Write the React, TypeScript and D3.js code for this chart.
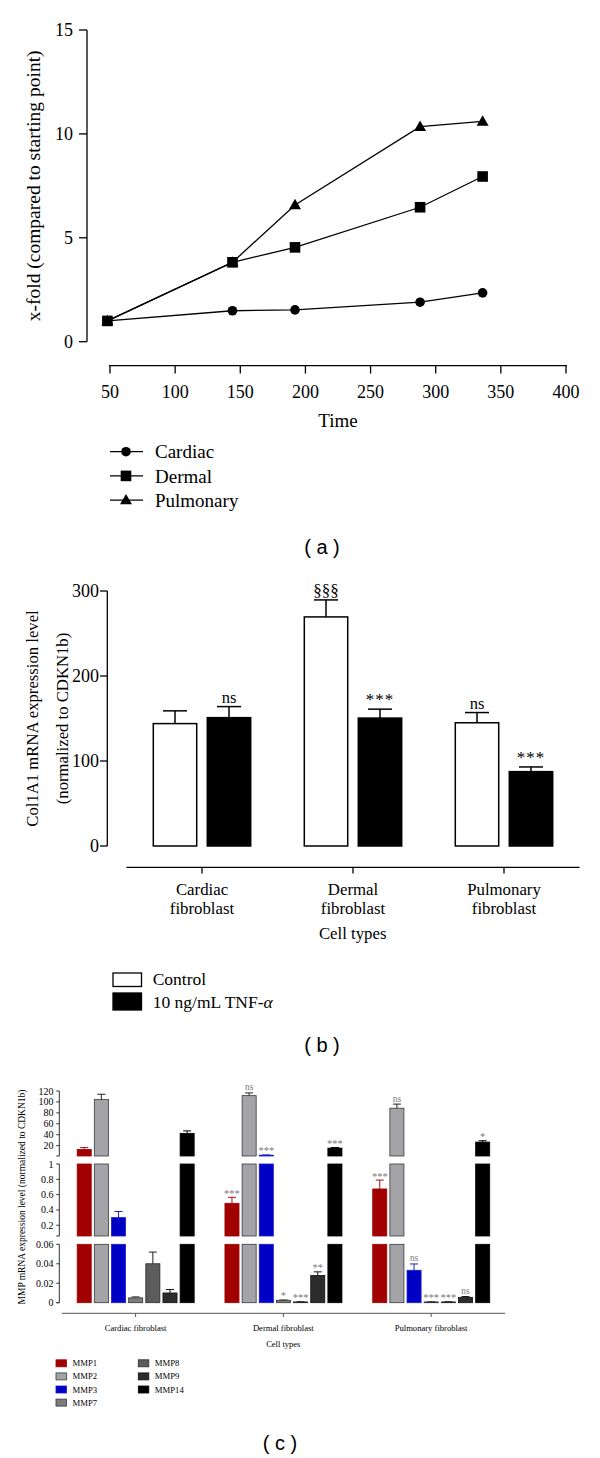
import React from "react";
import * as d3 from "d3";

const SERIF = "'Liberation Serif', 'Times New Roman', serif";
const SANS = "'Liberation Sans', Arial, sans-serif";

// ---------- Panel (a) ----------
const timeHours = [48, 144, 192, 288, 336];
const cardiacFold = [1.0, 1.49, 1.53, 1.9, 2.35];
const dermalFold = [1.0, 3.82, 4.54, 6.47, 7.95];
const pulmonaryFold = [1.0, 3.82, 6.58, 10.35, 10.6];
const seriesNamesA = ["Cardiac", "Dermal", "Pulmonary"];
const xTicksA = [50, 100, 150, 200, 250, 300, 350, 400];
const yTicksA = [0, 5, 10, 15];

// ---------- Panel (b) ----------
const cellTypesB = [
  ["Cardiac", "fibroblast"],
  ["Dermal", "fibroblast"],
  ["Pulmonary", "fibroblast"],
];
const controlMean = [144, 269.5, 145];
const controlErr = [15, 20, 12];
const tnfMean = [151, 150.5, 87.5];
const tnfErr = [13, 10.5, 5.5];
const controlSig = ["", "§§§", "ns"];
const tnfSig = ["ns", "***", "***"];
const yTicksB = [0, 100, 200, 300];
const legendB = ["Control", "10 ng/mL TNF-"];

// ---------- Panel (c) ----------
const cellTypesC = ["Cardiac fibroblast", "Dermal fibroblast", "Pulmonary fibroblast"];
const mmpNames = ["MMP1", "MMP2", "MMP3", "MMP7", "MMP8", "MMP9", "MMP14"];
const mmpFill = ["#a00000", "#a3a3a8", "#0000c4", "#7d7d7d", "#5c5c5c", "#2c2c2c", "#000000"];
const mmpStroke = ["#a00000", "#3a3a3a", "#1a1ad0", "#333333", "#2a2a2a", "#111111", "#000000"];
const mmpErrColor = ["#b01010", "#222222", "#2020c0", "#333333", "#222222", "#111111", "#000000"];
const cardiacMMP = [13, 104.5, 0.3, 0.005, 0.04, 0.01, 42.5];
const cardiacMMPErr = [3.5, 9.5, 0.08, 0.001, 0.012, 0.0035, 4.5];
const dermalMMP = [0.487, 111.5, 2.5, 0.0025, 0.0008, 0.028, 15.5];
const dermalMMPErr = [0.078, 5, 0.5, 0.0003, 0.0002, 0.0037, 1];
const pulmonaryMMP = [0.674, 88.5, 0.0333, 0.0008, 0.0008, 0.0055, 26.5];
const pulmonaryMMPErr = [0.116, 7.5, 0.0065, 0.0002, 0.0002, 0.0008, 2.5];
const cardiacSig = ["", "", "", "", "", "", ""];
const dermalSig = ["***", "ns", "***", "*", "***", "**", "***"];
const pulmonarySig = ["***", "ns", "ns", "***", "***", "ns", "*"];
const yTicksTop = [20, 40, 60, 80, 100, 120];
const yTicksMid = [0.2, 0.4, 0.6, 0.8, 1];
const yTicksBot = [0, 0.02, 0.04, 0.06];

function PanelA() {
  const x = d3.scaleLinear().domain([50, 400]).range([110, 566]);
  const y = d3.scaleLinear().domain([0, 15]).range([341.7, 30]);
  const series = [cardiacFold, dermalFold, pulmonaryFold];
  const line = (vals: number[]) =>
    d3.line<number>().x((_, i) => x(timeHours[i])).y((d) => y(d))(vals) || "";
  const tri = d3.symbol().type(d3.symbolTriangle).size(62)() || "";
  const marker = (k: number, cx: number, cy: number, key: string) => {
    if (k === 0) return <circle key={key} cx={cx} cy={cy} r={4.8} fill="#000" />;
    if (k === 1) return <rect key={key} x={cx - 5.3} y={cy - 5.3} width={10.6} height={10.6} fill="#000" />;
    return <path key={key} d={tri} transform={`translate(${cx},${cy + 0.8})`} fill="#000" />;
  };
  return (
    <g fontFamily={SERIF}>
      <line x1={87} x2={87} y1={y(15)} y2={y(0)} stroke="#000" strokeWidth={1.3} />
      {yTicksA.map((t) => (
        <g key={t}>
          <line x1={79} x2={87} y1={y(t)} y2={y(t)} stroke="#000" strokeWidth={1.3} />
          <text x={73} y={y(t)} dy="0.35em" textAnchor="end" fontSize={18}>{t}</text>
        </g>
      ))}
      <text transform={`translate(33,${(y(0) + y(15)) / 2}) rotate(-90)`} dy="0.35em" textAnchor="middle" fontSize={19.5}>
        x-fold (compared to starting point)
      </text>
      <line x1={x(50) - 1} x2={x(400) + 1} y1={365.7} y2={365.7} stroke="#000" strokeWidth={1.3} />
      {xTicksA.map((t) => (
        <g key={t}>
          <line x1={x(t)} x2={x(t)} y1={365.7} y2={373.5} stroke="#000" strokeWidth={1.3} />
          <text x={x(t)} y={391.7} dy="0.35em" textAnchor="middle" fontSize={18}>{t}</text>
        </g>
      ))}
      <text x={(x(50) + x(400)) / 2} y={420} dy="0.35em" textAnchor="middle" fontSize={19}>Time</text>
      {series.map((s, k) => (
        <path key={k} d={line(s)} fill="none" stroke="#000" strokeWidth={1.3} />
      ))}
      {series.map((s, k) => s.map((v, i) => marker(k, x(timeHours[i]), y(v), `${k}-${i}`)))}
      {seriesNamesA.map((n, k) => {
        const cy = 451.7 + k * 24.2;
        return (
          <g key={n}>
            <line x1={110} x2={143} y1={cy} y2={cy} stroke="#000" strokeWidth={1.3} />
            {marker(k, 126, cy, "lg" + k)}
            <text x={155} y={cy} dy="0.35em" fontSize={19}>{n}</text>
          </g>
        );
      })}
      <text x={322} y={547} dy="0.35em" textAnchor="middle" fontFamily={SANS} fontSize={20}>( a )</text>
    </g>
  );
}

function PanelB() {
  const x = d3.scaleBand<number>().domain([0, 1, 2]).range([126.5, 579.5]).padding(0);
  const inner = d3.scaleBand<string>().domain(["c", "t"]).range([-48.7, 48.7]).paddingInner(0.196).paddingOuter(0);
  const y = d3.scaleLinear().domain([0, 300]).range([846, 591]);
  const bw = inner.bandwidth();
  const cap = 12;
  const bars: { g: number; k: string; v: number; e: number; sig: string }[] = [];
  cellTypesB.forEach((_, i) => {
    bars.push({ g: i, k: "c", v: controlMean[i], e: controlErr[i], sig: controlSig[i] });
    bars.push({ g: i, k: "t", v: tnfMean[i], e: tnfErr[i], sig: tnfSig[i] });
  });
  return (
    <g fontFamily={SERIF}>
      <line x1={107.3} x2={107.3} y1={y(300)} y2={y(0)} stroke="#000" strokeWidth={1.3} />
      {yTicksB.map((t) => (
        <g key={t}>
          <line x1={100} x2={107.3} y1={y(t)} y2={y(t)} stroke="#000" strokeWidth={1.3} />
          <text x={99} y={y(t)} dy="0.35em" textAnchor="end" fontSize={18}>{t}</text>
        </g>
      ))}
      <g transform={`translate(0,${(y(0) + y(300)) / 2})`}>
        <text transform="translate(31.7,0) rotate(-90)" dy="0.35em" textAnchor="middle" fontSize={16.7}>
          Col1A1 mRNA expression level
        </text>
        <text transform="translate(61.7,0) rotate(-90)" dy="0.35em" textAnchor="middle" fontSize={16.7}>
          (normalized to CDKN1b)
        </text>
      </g>
      {bars.map((b, i) => {
        const cx = (x(b.g) as number) + x.bandwidth() / 2;
        const bx = cx + (inner(b.k) as number);
        const mid = bx + bw / 2;
        return (
          <g key={i}>
            <line x1={mid} x2={mid} y1={y(b.v)} y2={y(b.v + b.e)} stroke="#000" strokeWidth={1.5} />
            <line x1={mid - cap} x2={mid + cap} y1={y(b.v + b.e)} y2={y(b.v + b.e)} stroke="#000" strokeWidth={1.5} />
            <rect x={bx} y={y(b.v)} width={bw} height={y(0) - y(b.v)} fill={b.k === "c" ? "#fff" : "#000"} stroke="#000" strokeWidth={1.5} />
            {b.sig && (
              <text x={mid} y={y(b.v + b.e) - 4} textAnchor="middle" fontSize={b.sig === "ns" ? 16.5 : 17} letterSpacing={b.sig === "***" ? 1 : 0}>
                {b.sig}
              </text>
            )}
          </g>
        );
      })}
      <line x1={126.5} x2={579.5} y1={867.3} y2={867.3} stroke="#000" strokeWidth={1.3} />
      {cellTypesB.map((c, i) => {
        const cx = (x(i) as number) + x.bandwidth() / 2;
        return (
          <g key={i}>
            <line x1={cx} x2={cx} y1={867.3} y2={873.5} stroke="#000" strokeWidth={1.3} />
            <text x={cx} y={889} dy="0.35em" textAnchor="middle" fontSize={16.8}>{c[0]}</text>
            <text x={cx} y={908} dy="0.35em" textAnchor="middle" fontSize={16.8}>{c[1]}</text>
          </g>
        );
      })}
      <text x={352.7} y={933.3} dy="0.35em" textAnchor="middle" fontSize={16.8}>Cell types</text>
      <rect x={113} y={973} width={28.5} height={13.5} fill="#fff" stroke="#000" strokeWidth={1.3} />
      <rect x={113} y={993} width={28.5} height={17} fill="#000" stroke="#000" strokeWidth={1.3} />
      <text x={152.7} y={979} dy="0.35em" fontSize={17.5}>{legendB[0]}</text>
      <text x={152.7} y={1001.7} dy="0.35em" fontSize={17.5}>
        {legendB[1]}<tspan fontStyle="italic">α</tspan>
      </text>
      <text x={322} y={1045} dy="0.35em" textAnchor="middle" fontFamily={SANS} fontSize={20}>( b )</text>
    </g>
  );
}

function PanelC() {
  const x = d3.scaleBand<number>().domain([0, 1, 2]).range([61.7, 505]).padding(0);
  const inner = d3.scaleBand<string>().domain(mmpNames).range([-58.4, 58.6]).paddingInner(0.18).paddingOuter(0);
  const segs = [
    { s: d3.scaleLinear().domain([0, 0.06]).range([1302.7, 1244.3]), lo: 0, hi: 0.06, ticks: yTicksBot },
    { s: d3.scaleLinear().domain([0.06, 1]).range([1236, 1164]), lo: 0.06, hi: 1, ticks: yTicksMid },
    { s: d3.scaleLinear().domain([1, 120]).range([1156, 1091]), lo: 1, hi: 120, ticks: yTicksTop },
  ];
  const groups = [
    { v: cardiacMMP, e: cardiacMMPErr, sig: cardiacSig },
    { v: dermalMMP, e: dermalMMPErr, sig: dermalSig },
    { v: pulmonaryMMP, e: pulmonaryMMPErr, sig: pulmonarySig },
  ];
  const bw = inner.bandwidth();
  const axX = 59.3;
  return (
    <g fontFamily={SERIF}>
      {segs.map((sg, si) => (
        <g key={si}>
          <line x1={axX} x2={axX} y1={sg.s.range()[0]} y2={sg.s.range()[1]} stroke="#333" strokeWidth={1} />
          <line x1={axX - 3} x2={axX} y1={sg.s.range()[0]} y2={sg.s.range()[0]} stroke="#333" strokeWidth={1} />
          {sg.ticks.map((t) => (
            <g key={t}>
              <line x1={axX - 3} x2={axX} y1={sg.s(t)} y2={sg.s(t)} stroke="#333" strokeWidth={1} />
              <text x={53.5} y={sg.s(t)} dy="0.35em" textAnchor="end" fontSize={10}>{t}</text>
            </g>
          ))}
        </g>
      ))}
      <text transform="translate(22,1197) rotate(-90)" dy="0.35em" textAnchor="middle" fontSize={9.5}>
        MMP mRNA expression level (normalized to CDKN1b)
      </text>
      {groups.map((g, gi) => {
        const cx = (x(gi) as number) + x.bandwidth() / 2;
        return (
          <g key={gi}>
            {mmpNames.map((m, mi) => {
              const bx = cx + (inner(m) as number);
              const mid = bx + bw / 2;
              const v = g.v[mi];
              const e = g.e[mi];
              const seg = segs.find((sg) => v <= sg.hi) || segs[2];
              const yTop = seg.s(v);
              const yErr = seg.s(Math.min(v + e, seg.hi));
              const sig = g.sig[mi];
              return (
                <g key={m}>
                  {segs.map((sg, si) =>
                    v > sg.lo ? (
                      <rect
                        key={si}
                        x={bx}
                        y={sg.s(Math.min(v, sg.hi))}
                        width={bw}
                        height={Math.max(sg.s.range()[0] - sg.s(Math.min(v, sg.hi)), 0.6)}
                        fill={mmpFill[mi]}
                        stroke={mmpStroke[mi]}
                        strokeWidth={0.8}
                      />
                    ) : null
                  )}
                  <line x1={mid} x2={mid} y1={yTop} y2={yErr} stroke={mmpErrColor[mi]} strokeWidth={1} />
                  <line x1={mid - 4} x2={mid + 4} y1={yErr} y2={yErr} stroke={mmpErrColor[mi]} strokeWidth={1} />
                  {sig && (
                    <text
                      x={mid}
                      y={yErr - (sig === "ns" ? 2.5 : 0.5)}
                      textAnchor="middle"
                      fontSize={sig === "ns" ? 9.4 : 10.5}
                      fill="#7a7a7a"
                    >
                      {sig}
                    </text>
                  )}
                </g>
              );
            })}
          </g>
        );
      })}
      <line x1={61.7} x2={505} y1={1313.3} y2={1313.3} stroke="#555" strokeWidth={1} />
      {cellTypesC.map((c, i) => {
        const cx = (x(i) as number) + x.bandwidth() / 2;
        return (
          <g key={i}>
            <line x1={cx} x2={cx} y1={1313.3} y2={1317} stroke="#555" strokeWidth={1} />
            <text x={cx} y={1328.3} dy="0.35em" textAnchor="middle" fontSize={8.6}>{c}</text>
          </g>
        );
      })}
      <text x={283.3} y={1344} dy="0.35em" textAnchor="middle" fontSize={8.5}>Cell types</text>
      {mmpNames.map((m, mi) => {
        const col = mi < 4 ? 0 : 1;
        const row = mi < 4 ? mi : mi - 4;
        const lx = col === 0 ? 56 : 138.3;
        const cy = 1363.3 + row * 13.1;
        return (
          <g key={m}>
            <rect x={lx} y={cy - 3.5} width={10.5} height={7} fill={mmpFill[mi]} stroke={mmpStroke[mi]} strokeWidth={0.8} />
            <text x={lx + 16.5} y={cy} dy="0.35em" fontSize={8.7}>{m}</text>
          </g>
        );
      })}
      <text x={280} y={1443.3} dy="0.35em" textAnchor="middle" fontFamily={SANS} fontSize={20}>( c )</text>
    </g>
  );
}

export default function App() {
  return (
    <svg
      width={600}
      height={1458}
      viewBox="0 0 600 1458"
      style={{ position: "absolute", left: 0, top: 0, background: "#fff" }}
    >
      <rect x={0} y={0} width={600} height={1458} fill="#fff" />
      <PanelA />
      <PanelB />
      <PanelC />
    </svg>
  );
}
